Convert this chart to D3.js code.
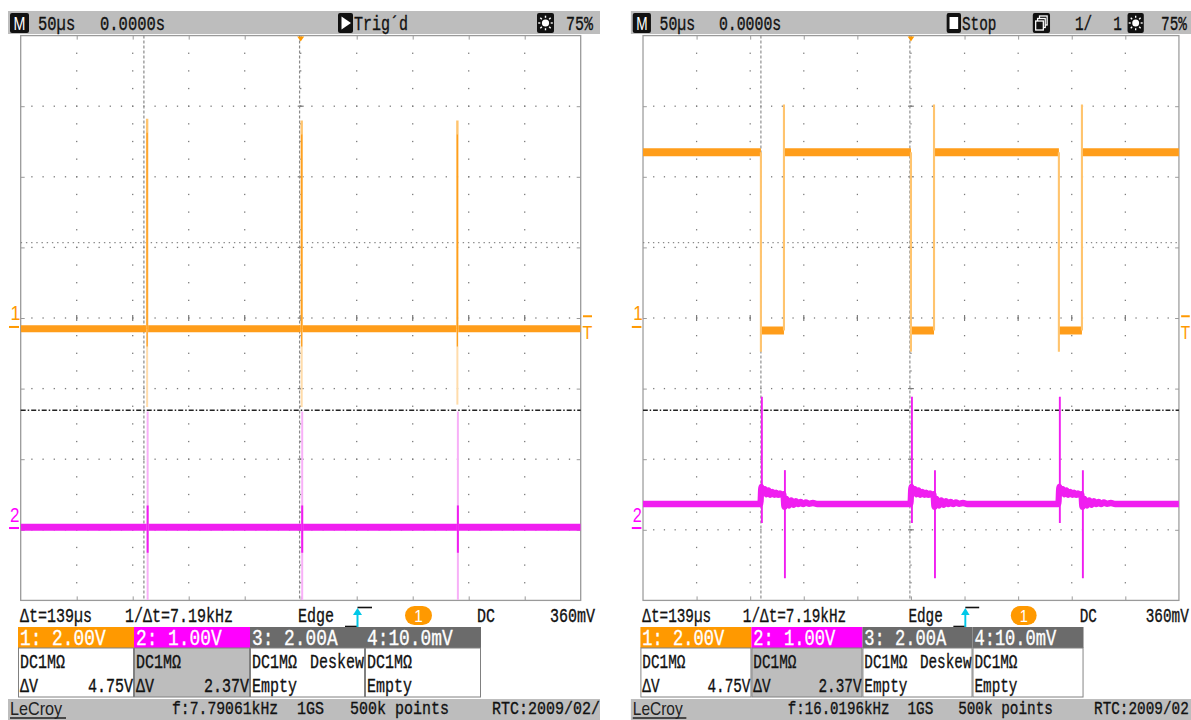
<!DOCTYPE html>
<html>
<head>
<meta charset="utf-8">
<script src="https://cdn.jsdelivr.net/npm/d3@7"></script>
<style>
  html, body { margin: 0; padding: 0; background: #fff; }
  svg { display: block; }
</style>
</head>
<body>
<svg id="scope" width="1191" height="720"></svg>
<script>
// ---- Acquisition settings --------------------------------------------------
const timeTicks = [-250, -200, -150, -100, -50, 0, 50, 100, 150, 200, 250]; // µs, 50 µs/div
const voltDivs = [-4, -3, -2, -1, 0, 1, 2, 3, 4];                            // vertical divisions
const channelVoltsPerDiv = [2.0, 1.0];
const channelOffsets = [-0.254, -2.975];   // volts
const cursorTimes = [-140, -1];            // µs  (Δt = 139 µs)
const cursorVolts = [2.39, -2.36];         // channel 1 volts (ΔV = 4.75 V)
const triggerLevel = 0.36;                 // V

// ---- Capture A: channel 1 idle with switching spikes ----------------------
const spikeTimesA = [-138, 0, 139];
const ch1BaseA = -0.05;
const ch1SpikeUpA = [5.9, 5.85, 5.85];
const ch1SpikeDownA = [-2.27, -2.27, -2.2];
const ch2BaseA = 0.01;
const ch2SpikeA = [-1.02, 1.65];
const ch2CoreA = [-0.35, 0.32];

// ---- Capture B: channel 1 pulsing low --------------------------------------
const fallTimesB = [-140, 0, 138];
const riseTimesB = [-118.5, 21.5, 159.5];
const ch1LevelsB = [4.95, -0.1];           // high, low
const ch1FallSpikeB = -0.7;
const ch1RiseSpikeB = 6.3;
const ch2BaseB = 0.34;
const ch2FallSpikeB = [0.07, 1.86];
const ch2RiseSpikeB = [-0.71, 0.82];
// ringing on channel 2, [µs after edge, volts]
const ch2LowRingB = [[0.4, 0.58], [2, 0.5], [3.6, 0.55], [5.2, 0.48], [7, 0.53], [8.8, 0.47],
  [10.6, 0.51], [12.4, 0.47], [14.2, 0.5], [16, 0.47], [17.8, 0.49], [19.6, 0.47], [21, 0.48]];
const ch2HighRingB = [[0.4, 0.3], [2.4, 0.41], [4.6, 0.32], [6.8, 0.39], [9, 0.33], [11.2, 0.38],
  [13.4, 0.34], [15.6, 0.37], [17.8, 0.34], [20.5, 0.36], [23.5, 0.345], [27, 0.355], [31, 0.34]];

// ---- Readout text ----------------------------------------------------------
const timebaseLabels = ["50µs", "0.0000s"];
const cursorReadout = ["Δt=139µs", "1/Δt=7.19kHz"];
const triggerReadout = ["Edge", "1", "DC", "360mV"];
const channelHeaders = ["1: 2.00V", "2: 1.00V", "3: 2.00A", "4:10.0mV"];
const channelCoupling = ["DC1MΩ", "DC1MΩ", "DC1MΩ", "DC1MΩ"];
const channelExtra = ["", "", "Deskew", ""];
const channelRowThree = [["ΔV", "4.75V"], ["ΔV", "2.37V"], ["Empty", ""], ["Empty", ""]];
const statusBarA = ["f:7.79061kHz", "1GS", "500k points", "RTC:2009/02/"];
const statusBarB = ["f:16.0196kHz", "1GS", "500k points", "RTC:2009/02"];

// ---- Styling ----------------------------------------------------------------
const FRAME = { x0: 20.7, x1: 580.7, y0: 35.6, y1: 600.4 };
const ORANGE = "#ff9d1a", ORANGE_BOX = "#ff9900", ORANGE_EDGE = "#ffc46e", ORANGE_FAINT = "#ffdcab";
const MAGENTA = "#f01ef0", MAGENTA_BOX = "#ff00ff", MAGENTA_FAINT = "#f8b0f8";
const BAR = "#bdbdbd", GRIDC = "#7a7a7a", FRAMEC = "#9a9a9a";
const MONO = '"Liberation Mono","DejaVu Sans Mono",monospace';
const SANS = '"Liberation Sans","DejaVu Sans",sans-serif';

const svg = d3.select("#scope");
svg.append("rect").attr("width", 1191).attr("height", 720).attr("fill", "#fff");

function txt(g, x, y, s, o = {}) {
  const size = o.size || 21;
  const sx = o.sx ?? (o.family ? 0.8 : 9.0 / (0.6 * size));
  const fill = o.fill || "#111";
  const t = g.append("text")
    .attr("transform", `translate(${x},${y}) scale(${sx},1)`)
    .attr("text-anchor", o.anchor || "start")
    .attr("font-family", o.family || MONO)
    .attr("font-size", size)
    .attr("font-weight", o.weight || "normal")
    .attr("fill", fill)
    .text(s);
  if (!o.family) t.attr("stroke", fill).attr("stroke-width", 0.35);
  return t;
}

function vline(g, xx, ya, yb, color, w, extra) {
  const l = g.append("line").attr("x1", xx).attr("x2", xx).attr("y1", ya).attr("y2", yb)
    .attr("stroke", color).attr("stroke-width", w);
  if (extra) l.attr("stroke-dasharray", extra);
  return l;
}

function drawPanel(g, cfg, id) {
  const x = d3.scaleLinear().domain(d3.extent(timeTicks)).range([FRAME.x0, FRAME.x1]);
  const div = d3.scaleLinear().domain(d3.extent(voltDivs)).range([FRAME.y1, FRAME.y0]);
  const yCh = ch => v => div((v + channelOffsets[ch]) / channelVoltsPerDiv[ch]);
  const y1 = yCh(0), y2 = yCh(1);

  // ---- header bar ----
  g.append("rect").attr("x", 8).attr("y", 11).attr("width", 592).attr("height", 23).attr("fill", BAR);
  g.append("rect").attr("x", 10).attr("y", 13).attr("width", 19).attr("height", 20).attr("rx", 2).attr("fill", "#111");
  txt(g, 19.5, 30, "M", { anchor: "middle", fill: "#fff", family: SANS, size: 19, sx: 0.75 });
  txt(g, 38, 30, timebaseLabels[0], { sx: 9.3 / (0.6 * 21) });
  txt(g, 100, 30, timebaseLabels[1], { sx: 9.3 / (0.6 * 21) });
  g.append("rect").attr("x", 338).attr("y", 13).attr("width", 15).attr("height", 20).attr("rx", 2).attr("fill", "#111");
  if (cfg.status === "Stop") {
    g.append("rect").attr("x", 341).attr("y", 17).attr("width", 9).attr("height", 12).attr("fill", "#fff");
  } else {
    g.append("path").attr("d", "M341.5,16.5 L341.5,29.5 L351,23 Z").attr("fill", "#fff");
  }
  txt(g, 354, 30, cfg.status === "Stop" ? "Stop" : "Trig´d");
  if (cfg.stack) {
    g.append("rect").attr("x", 428).attr("y", 13).attr("width", 18).attr("height", 20).attr("rx", 2).attr("fill", "#111");
    [[435, 16], [433, 18.5], [431, 21]].forEach(([a, b]) =>
      g.append("rect").attr("x", a).attr("y", b).attr("width", 8).attr("height", 9)
        .attr("fill", "#111").attr("stroke", "#fff").attr("stroke-width", 1.3));
    txt(g, 472, 30, "1/");
    txt(g, 512, 30, "1");
  }
  // intensity (sun) icon
  const sx0 = cfg.sunX;
  g.append("rect").attr("x", sx0).attr("y", 13).attr("width", 17).attr("height", 20).attr("rx", 2).attr("fill", "#111");
  g.append("circle").attr("cx", sx0 + 8.5).attr("cy", 23).attr("r", 3.6).attr("fill", "#fff");
  d3.range(8).forEach(k => {
    const a = k * Math.PI / 4;
    g.append("line").attr("x1", sx0 + 8.5 + Math.cos(a) * 5.2).attr("y1", 23 + Math.sin(a) * 5.2)
      .attr("x2", sx0 + 8.5 + Math.cos(a) * 7.3).attr("y2", 23 + Math.sin(a) * 7.3)
      .attr("stroke", "#fff").attr("stroke-width", 1.4);
  });
  txt(g, cfg.rightEdge, 30, "75%", { anchor: "end" });

  // ---- grid ----
  const dots = [];
  voltDivs.slice(1, -1).forEach(d =>
    d3.range(timeTicks[0] + 10, timeTicks[timeTicks.length - 1], 10).forEach(t => dots.push([x(t), div(d)])));
  timeTicks.slice(1, -1).forEach(t =>
    d3.range(voltDivs[0] + 0.25, voltDivs[voltDivs.length - 1], 0.25).forEach(d => dots.push([x(t), div(d)])));
  g.append("g").selectAll("rect").data(dots).join("rect")
    .attr("x", d => d[0] - 0.65).attr("y", d => d[1] - 0.65)
    .attr("width", 1.3).attr("height", 1.3).attr("fill", GRIDC);

  const cross = g.append("g").attr("stroke", GRIDC).attr("stroke-width", 1.2);
  timeTicks.slice(1, -1).forEach(t =>
    cross.append("line").attr("x1", x(t)).attr("x2", x(t)).attr("y1", div(0) - 3).attr("y2", div(0) + 3));
  voltDivs.slice(1, -1).forEach(d =>
    cross.append("line").attr("x1", x(0) - 3).attr("x2", x(0) + 3).attr("y1", div(d)).attr("y2", div(d)));

  // frame ticks drawn with axes
  const styleAxis = s => { s.select(".domain").remove(); s.selectAll("line").attr("stroke", FRAMEC); };
  g.append("g").attr("transform", `translate(0,${FRAME.y0})`)
    .call(d3.axisBottom(x).tickValues(timeTicks.slice(1, -1)).tickSize(4).tickFormat("")).call(styleAxis);
  g.append("g").attr("transform", `translate(0,${FRAME.y1})`)
    .call(d3.axisTop(x).tickValues(timeTicks.slice(1, -1)).tickSize(4).tickFormat("")).call(styleAxis);
  g.append("g").attr("transform", `translate(${FRAME.x0},0)`)
    .call(d3.axisRight(div).tickValues(voltDivs.slice(1, -1)).tickSize(4).tickFormat("")).call(styleAxis);
  g.append("g").attr("transform", `translate(${FRAME.x1},0)`)
    .call(d3.axisLeft(div).tickValues(voltDivs.slice(1, -1)).tickSize(4).tickFormat("")).call(styleAxis);

  g.append("rect").attr("x", FRAME.x0).attr("y", FRAME.y0)
    .attr("width", FRAME.x1 - FRAME.x0).attr("height", FRAME.y1 - FRAME.y0)
    .attr("fill", "none").attr("stroke", FRAMEC).attr("stroke-width", 1.3);

  // ---- cursors ----
  cursorTimes.forEach(t => vline(g, x(t), FRAME.y0, FRAME.y1, "#8a8a8a", 1.2, "3,2"));
  g.append("line").attr("x1", FRAME.x0).attr("x2", FRAME.x1).attr("y1", y1(cursorVolts[0])).attr("y2", y1(cursorVolts[0]))
    .attr("stroke", "#8a8a8a").attr("stroke-width", 1.4).attr("stroke-dasharray", "1.4,3.8");
  g.append("line").attr("x1", FRAME.x0).attr("x2", FRAME.x1).attr("y1", y1(cursorVolts[1])).attr("y2", y1(cursorVolts[1]))
    .attr("stroke", "#222").attr("stroke-width", 1.5).attr("stroke-dasharray", "5,2,1.5,2");

  // ---- traces ----
  const clipId = "clip-" + id;
  g.append("clipPath").attr("id", clipId).append("rect")
    .attr("x", FRAME.x0).attr("y", FRAME.y0).attr("width", FRAME.x1 - FRAME.x0).attr("height", FRAME.y1 - FRAME.y0);
  const tg = g.append("g").attr("clip-path", `url(#${clipId})`);
  cfg.traces(tg, x, y1, y2);

  // ---- channel markers ----
  txt(g, 10.5, y1(0) - 7, "1", { family: SANS, size: 21, fill: ORANGE_BOX, sx: 0.85 });
  g.append("line").attr("x1", 9).attr("x2", 19).attr("y1", y1(0)).attr("y2", y1(0)).attr("stroke", ORANGE_BOX).attr("stroke-width", 2);
  txt(g, 10, y2(0) - 6, "2", { family: SANS, size: 20, fill: MAGENTA_BOX, sx: 0.85 });
  g.append("line").attr("x1", 9).attr("x2", 19).attr("y1", y2(0)).attr("y2", y2(0)).attr("stroke", MAGENTA_BOX).attr("stroke-width", 2);
  // trigger level and position
  g.append("line").attr("x1", 583).attr("x2", 592).attr("y1", y1(triggerLevel) + 2).attr("y2", y1(triggerLevel) + 2)
    .attr("stroke", ORANGE_BOX).attr("stroke-width", 2);
  txt(g, 587.5, y1(0) + 12, "T", { family: SANS, size: 19, fill: ORANGE_BOX, anchor: "middle", sx: 0.85 });
  g.append("path").attr("d", `M${x(0) - 3.5},${FRAME.y0 + 1} L${x(0) + 3.5},${FRAME.y0 + 1} L${x(0)},${FRAME.y0 + 6} Z`)
    .attr("fill", ORANGE_BOX);

  // ---- readout row ----
  txt(g, 20, 622, cursorReadout[0]);
  txt(g, 125, 622, cursorReadout[1]);
  txt(g, 298, 622, triggerReadout[0]);
  g.append("path").attr("d", "M345,626.5 L357,626.5").attr("stroke", "#111").attr("stroke-width", 1.6);
  g.append("path").attr("d", "M357.5,607.5 L372,607.5").attr("stroke", "#111").attr("stroke-width", 1.6);
  g.append("line").attr("x1", 357.5).attr("x2", 357.5).attr("y1", 628).attr("y2", 612).attr("stroke", "#00c8e8").attr("stroke-width", 2);
  g.append("path").attr("d", "M353,615 L357.5,608 L362,615 Z").attr("fill", "#00c8e8");
  g.append("rect").attr("x", 405).attr("y", 606).attr("width", 27).attr("height", 19).attr("rx", 9.5).attr("fill", ORANGE_BOX);
  txt(g, 418.5, 622, triggerReadout[1], { anchor: "middle", fill: "#fff", family: SANS, size: 17, sx: 0.9 });
  txt(g, 477, 622, triggerReadout[2]);
  txt(g, cfg.rightEdge + 2, 622, triggerReadout[3], { anchor: "end" });

  // ---- channel boxes ----
  const edges = [18, 134, 250, 365, 481];
  const headFill = [ORANGE_BOX, MAGENTA_BOX, "#6b6b6b", "#6b6b6b"];
  const bodyFill = ["#fff", BAR, "#fff", "#fff"];
  channelHeaders.forEach((h, i) => {
    const a = edges[i], b = edges[i + 1];
    g.append("rect").attr("x", a).attr("y", 627).attr("width", b - a).attr("height", 21).attr("fill", headFill[i]);
    g.append("rect").attr("x", a + 0.5).attr("y", 648).attr("width", b - a - 1).attr("height", 49)
      .attr("fill", bodyFill[i]).attr("stroke", "#808080").attr("stroke-width", 1);
    txt(g, a + 2, 645, h, { fill: "#fff", size: 22, sx: 10.7 / (0.6 * 22) });
    txt(g, a + 2, 668, channelCoupling[i]);
    if (channelExtra[i]) txt(g, b - 1, 668, channelExtra[i], { anchor: "end" });
    txt(g, a + 2, 692, channelRowThree[i][0], { size: 20, sx: 9.0 / (0.6 * 20) });
    if (channelRowThree[i][1]) txt(g, b - 1, 692, channelRowThree[i][1], { anchor: "end", size: 20, sx: 9.0 / (0.6 * 20) });
  });

  // ---- status bar ----
  g.append("rect").attr("x", 8).attr("y", 699).attr("width", 592).attr("height", 21).attr("fill", BAR);
  txt(g, 10, 715, "LeCroy", { family: SANS, size: 18, sx: 0.9, fill: "#222" });
  g.append("line").attr("x1", 10).attr("x2", 66).attr("y1", 718).attr("y2", 718).attr("stroke", "#222").attr("stroke-width", 1.3);
  const sb = cfg.statusBar;
  const sbSize = 19;
  txt(g, 172, 714, sb[0], { size: sbSize, sx: 8.85 / (0.6 * sbSize) });
  txt(g, 297, 714, sb[1], { size: sbSize, sx: 9.0 / (0.6 * sbSize) });
  txt(g, 350, 714, sb[2], { size: sbSize, sx: 9.0 / (0.6 * sbSize) });
  txt(g, 492, 714, sb[3], { size: sbSize, sx: 9.0 / (0.6 * sbSize) });
}

// ---- trace builders ----
function tracesA(g, x, y1, y2) {
  const xa = x(timeTicks[0]), xb = x(timeTicks[timeTicks.length - 1]);
  // channel 1
  g.append("line").attr("x1", xa).attr("x2", xb).attr("y1", y1(ch1BaseA)).attr("y2", y1(ch1BaseA))
    .attr("stroke", ORANGE).attr("stroke-width", 7);
  spikeTimesA.forEach((t, i) => {
    vline(g, x(t) + 1, y1(ch1BaseA), y1(ch1SpikeDownA[i]), ORANGE_FAINT, 2);
    vline(g, x(t) + 1, y1(ch1SpikeUpA[i]), y1(ch1BaseA), ORANGE_EDGE, 2.4);
    vline(g, x(t) + 1, y1(ch1SpikeUpA[i] - 0.4), y1(ch1BaseA - 0.5), ORANGE, 1.2);
  });
  // channel 2
  g.append("line").attr("x1", xa).attr("x2", xb).attr("y1", y2(ch2BaseA)).attr("y2", y2(ch2BaseA))
    .attr("stroke", MAGENTA).attr("stroke-width", 7);
  spikeTimesA.forEach(t => {
    vline(g, x(t) + 1.5, y2(ch2SpikeA[1]), y2(ch2SpikeA[0]), MAGENTA_FAINT, 2);
    vline(g, x(t) + 1.5, y2(ch2CoreA[1]), y2(ch2CoreA[0]), MAGENTA, 2);
  });
}

function tracesB(g, x, y1, y2) {
  const t0 = timeTicks[0], t1 = timeTicks[timeTicks.length - 1];
  // channel 1 levels
  const segs = [];
  let start = t0;
  fallTimesB.forEach((f, i) => {
    segs.push([start, f, ch1LevelsB[0]]);
    segs.push([f, riseTimesB[i], ch1LevelsB[1]]);
    start = riseTimesB[i];
  });
  segs.push([start, t1, ch1LevelsB[0]]);
  g.append("g").selectAll("line").data(segs).join("line")
    .attr("x1", d => x(d[0])).attr("x2", d => x(d[1]))
    .attr("y1", d => y1(d[2])).attr("y2", d => y1(d[2]))
    .attr("stroke", ORANGE).attr("stroke-width", 8);
  fallTimesB.forEach(f => vline(g, x(f), y1(ch1LevelsB[0]), y1(ch1FallSpikeB), ORANGE_EDGE, 2.2));
  riseTimesB.forEach(r => vline(g, x(r), y1(ch1RiseSpikeB), y1(ch1LevelsB[1]), ORANGE_EDGE, 2.2));

  // channel 2 with ringing
  const pts = [[t0, ch2BaseB]];
  fallTimesB.forEach((f, i) => {
    pts.push([f - 0.5, ch2BaseB]);
    ch2LowRingB.forEach(([dt, v]) => { if (f + dt < riseTimesB[i]) pts.push([f + dt, v]); });
    ch2HighRingB.forEach(([dt, v]) => pts.push([riseTimesB[i] + dt, v]));
    pts.push([riseTimesB[i] + 36, ch2BaseB]);
  });
  pts.push([t1, ch2BaseB]);
  g.append("path").datum(pts)
    .attr("d", d3.line().x(d => x(d[0])).y(d => y2(d[1])).curve(d3.curveMonotoneX))
    .attr("fill", "none").attr("stroke", MAGENTA).attr("stroke-width", 6.5);
  fallTimesB.forEach(f => vline(g, x(f) + 1, y2(ch2FallSpikeB[1]), y2(ch2FallSpikeB[0]), MAGENTA, 2));
  riseTimesB.forEach(r => vline(g, x(r) + 1, y2(ch2RiseSpikeB[1]), y2(ch2RiseSpikeB[0]), MAGENTA, 2));
}

// ---- left capture ----
svg.append("clipPath").attr("id", "panelA").append("rect").attr("x", 0).attr("y", 0).attr("width", 601).attr("height", 720);
const gA = svg.append("g").attr("clip-path", "url(#panelA)");
drawPanel(gA, { status: "Trig'd", stack: false, sunX: 537, rightEdge: 593, statusBar: statusBarA, traces: tracesA }, "a");

// ---- right capture (narrower screen) ----
const gB = svg.append("g").attr("transform", "translate(623.2,0) scale(0.957,1)");
drawPanel(gB, { status: "Stop", stack: true, sunX: 527, rightEdge: 589, statusBar: statusBarB, traces: tracesB }, "b");
</script>
</body>
</html>
